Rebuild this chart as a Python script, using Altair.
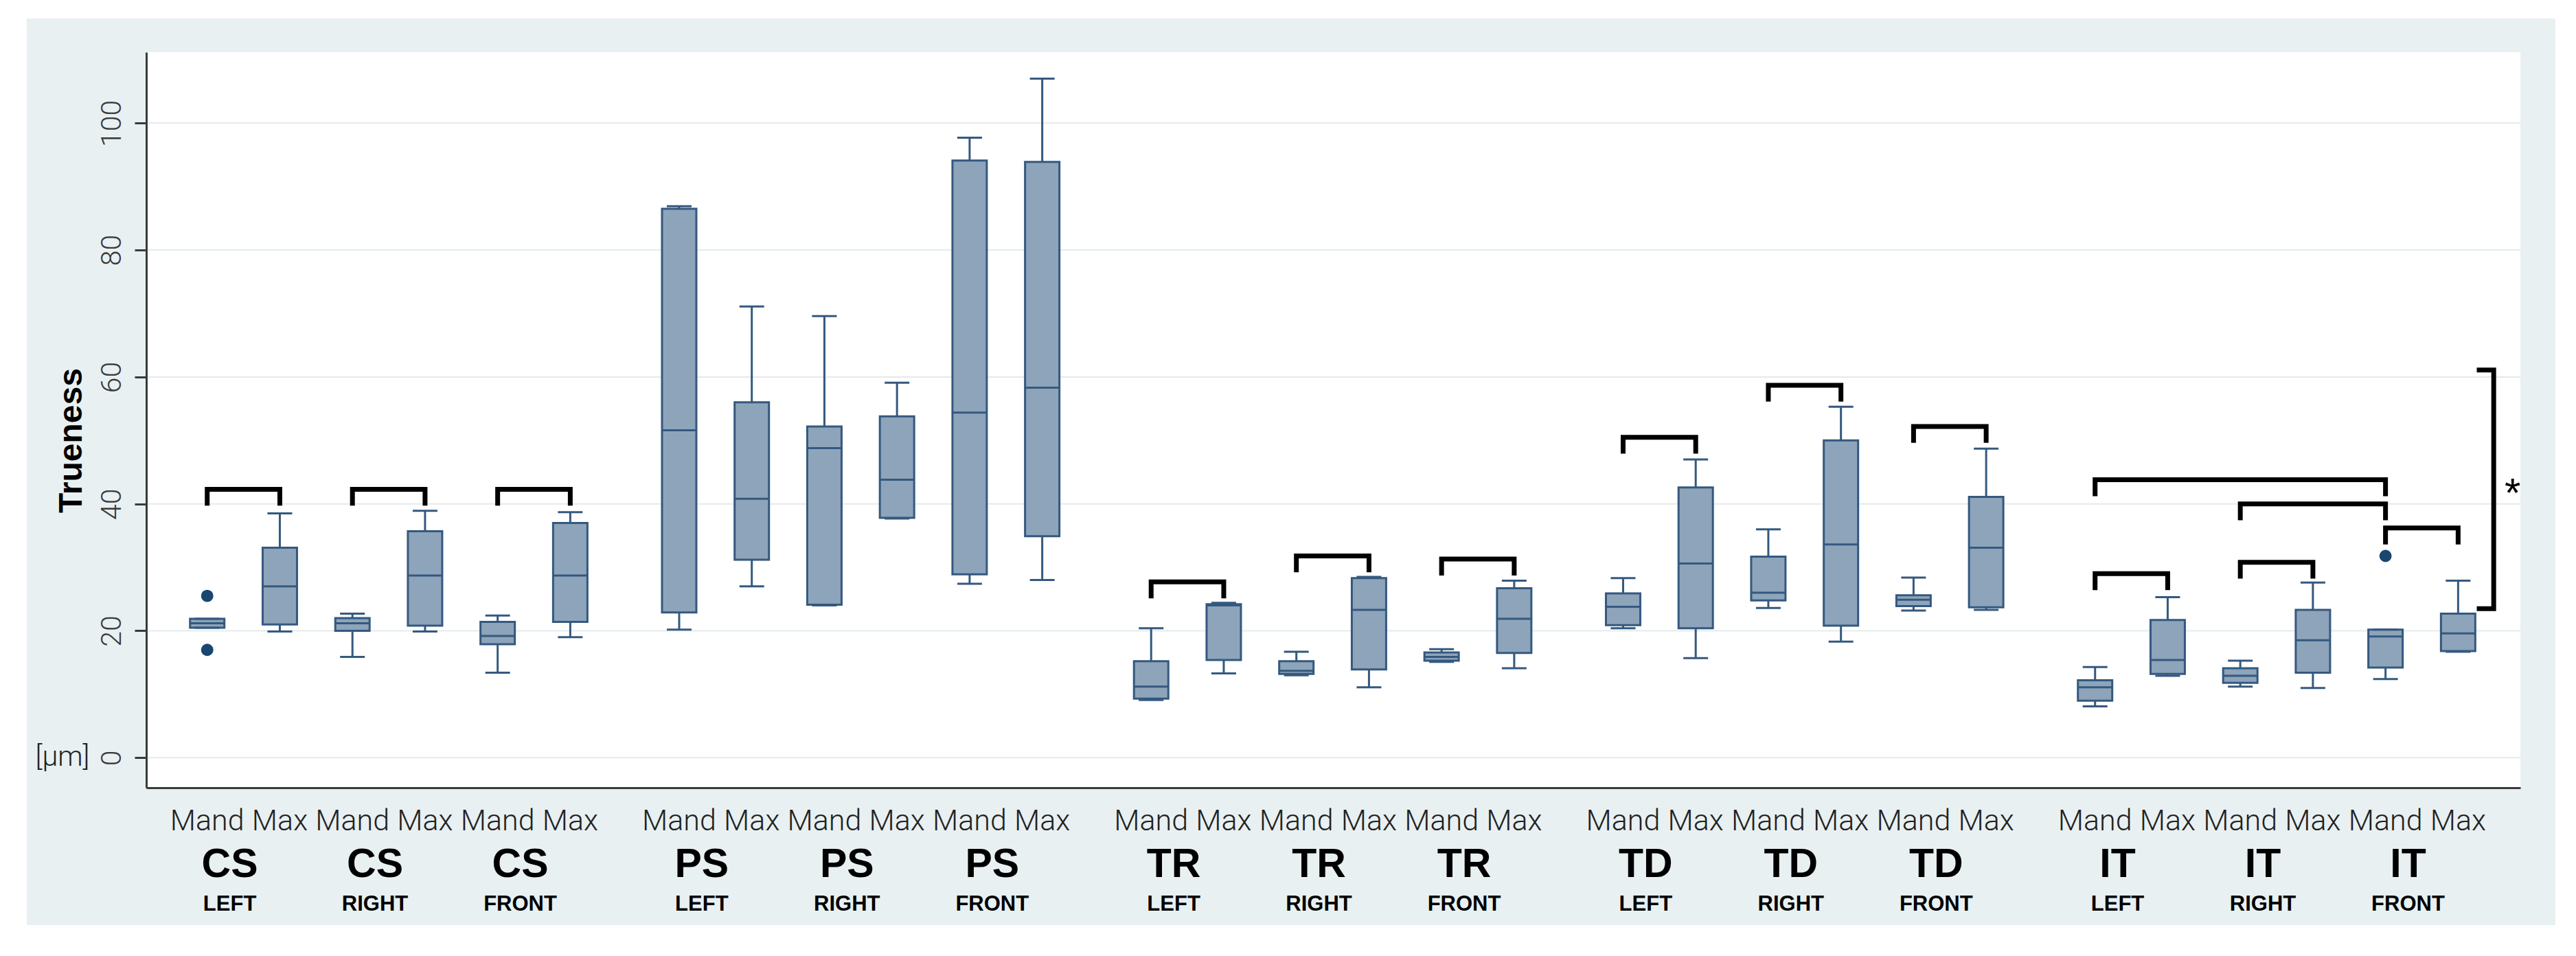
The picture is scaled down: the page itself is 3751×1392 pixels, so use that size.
import altair as alt
import pandas as pd

# ---------------- data ----------------
sites = ["CS", "PS", "TR", "TD", "IT"]
sides = ["LEFT", "RIGHT", "FRONT"]
jaws = ["Mand", "Max"]

# one value per box, ordered site -> side -> jaw (Mand, Max)
lower = [20.5, 19.9, 15.9, 19.9, 13.4, 19.0,
         20.2, 27.0, 24.0, 37.7, 27.4, 28.0,
         9.1, 13.3, 13.0, 11.1, 15.1, 14.1,
         20.4, 15.7, 23.6, 18.3, 23.2, 23.3,
         8.1, 12.9, 11.2, 11.0, 12.4, 16.7]
q1 = [20.5, 21.0, 20.0, 20.8, 17.9, 21.4,
      22.9, 31.2, 24.1, 37.8, 28.9, 34.9,
      9.3, 15.4, 13.2, 13.9, 15.3, 16.5,
      20.9, 20.4, 24.8, 20.8, 23.9, 23.7,
      9.0, 13.2, 11.8, 13.4, 14.2, 16.8]
median = [21.2, 27.0, 21.2, 28.7, 19.2, 28.7,
          51.6, 40.8, 48.8, 43.8, 54.4, 58.3,
          11.2, 24.0, 13.7, 23.3, 15.9, 21.9,
          23.8, 30.6, 26.0, 33.6, 24.9, 33.1,
          11.1, 15.4, 12.9, 18.5, 19.1, 19.6]
q3 = [21.9, 33.1, 22.0, 35.7, 21.4, 37.0,
      86.5, 56.0, 52.2, 53.8, 94.1, 93.9,
      15.2, 24.2, 15.2, 28.3, 16.6, 26.7,
      25.9, 42.6, 31.7, 50.0, 25.6, 41.1,
      12.2, 21.7, 14.1, 23.3, 20.2, 22.7]
upper = [21.9, 38.5, 22.7, 38.9, 22.4, 38.7,
         86.9, 71.1, 69.6, 59.1, 97.7, 107.0,
         20.4, 24.4, 16.7, 28.5, 17.1, 27.9,
         28.3, 47.0, 36.0, 55.3, 28.4, 48.7,
         14.3, 25.3, 15.3, 27.6, 20.2, 27.9]

outlier_box = [0, 0, 28]
outlier_value = [25.5, 17.0, 31.8]

# comparison brackets: from box, to box, level
bracket_from = [0, 2, 4, 12, 14, 16, 18, 20, 22, 24, 26, 28, 26, 24]
bracket_to = [1, 3, 5, 13, 15, 17, 19, 21, 23, 25, 27, 29, 28, 28]
bracket_level = [42.3, 42.3, 42.3, 27.7, 31.8, 31.3, 50.5, 58.7, 52.2,
                 29.0, 30.8, 36.2, 40.0, 43.8]

sig_top = [61.1]
sig_bottom = [23.5]
sig_star_value = [43.3]
sig_label = ["*"]

y_ticks = [0, 20, 40, 60, 80, 100]
y_unit = ["[µm]"]
y_title = "Trueness"

# ---------------- layout / style ----------------
W, H = 3457, 1071
FILL = "#8EA4BA"
STROKE = "#34597F"
NAVY = "#1A476F"
BG = "#E8F0F2"
FONT = "Liberation Sans"
THIN = "Roboto"
DROP = 2.2


def pos(b):
    return (b // 6) * 6.5 + (b % 6)


n = len(lower)
boxes = pd.DataFrame({
    "x": [pos(b) for b in range(n)],
    "jaw": [jaws[b % 2] for b in range(n)],
    "lower": lower, "q1": q1, "median": median, "q3": q3, "upper": upper,
})
outliers = pd.DataFrame({"x": [pos(b) for b in outlier_box], "v": outlier_value})

groups = []
for s, site in enumerate(sites):
    for d, side in enumerate(sides):
        b = s * 6 + d * 2
        groups.append({"x": (pos(b) + pos(b + 1)) / 2, "site": site, "side": side})
groups = pd.DataFrame(groups)

rows = []
for k, (a, b, lv) in enumerate(zip(bracket_from, bracket_to, bracket_level)):
    pts = [(pos(a), lv - DROP), (pos(a), lv), (pos(b), lv), (pos(b), lv - DROP)]
    for o, (xx, yy) in enumerate(pts):
        rows.append({"id": k, "o": o, "x": xx, "v": yy})
last = pos(n - 1)
for k, (t, bt) in enumerate(zip(sig_top, sig_bottom)):
    pts = [(last + 0.29, t), (last + 0.49, t), (last + 0.49, bt), (last + 0.29, bt)]
    for o, (xx, yy) in enumerate(pts):
        rows.append({"id": 100 + k, "o": o, "x": xx, "v": yy})
brackets = pd.DataFrame(rows)
star = pd.DataFrame({"x": [last + 0.75], "v": sig_star_value, "t": sig_label})
grid = pd.DataFrame({"v": y_ticks})
unit = pd.DataFrame({"v": [0], "t": y_unit})

xscale = alt.Scale(domain=[-0.792, 31.81], nice=False, zero=False)
yscale = alt.Scale(domain=[-4.73, 111.18], nice=False, zero=False)
xaxis = alt.Axis(labels=False, ticks=False, grid=False, title=None,
                 domainColor="#3a3a3a", domainWidth=3, zindex=1)
yaxis = alt.Axis(values=y_ticks, grid=False, labelAngle=270, labelAlign="center",
                 labelBaseline="alphabetic", labelPadding=21, labelFontSize=41,
                 labelFont=THIN, labelFontWeight=300, labelColor="#3a3a3a",
                 tickSize=17, tickWidth=3,
                 tickColor="#3a3a3a", domainColor="#3a3a3a", domainWidth=3,
                 title=y_title, titleFont=FONT, titleFontSize=48, titleFontWeight="bold",
                 titleColor="black", titleAngle=270, titleAlign="center",
                 titleBaseline="alphabetic", titleX=-95, titleY=565, zindex=1,
                 labelFlush=False, labelOverlap=False)


def X(f="x"):
    return alt.X(f + ":Q", scale=xscale, axis=xaxis)


def Y(f):
    return alt.Y(f + ":Q", scale=yscale, axis=yaxis)


one = alt.Data(values=[{"a": 1}])

gray = alt.Chart(one).mark_rect(color=BG).encode(
    x=alt.value(-174), x2=alt.value(3508), y=alt.value(-49), y2=alt.value(1271))
white = alt.Chart(one).mark_rect(color="white").encode(
    x=alt.value(0), x2=alt.value(W), y=alt.value(0), y2=alt.value(H))

gridl = alt.Chart(grid).mark_rule(color="#E2EBEE", strokeWidth=2).encode(y=Y("v"))

brk = alt.Chart(brackets).mark_line(color="black", strokeWidth=7, strokeCap="square",
                                    strokeJoin="miter").encode(
    x=X(), y=Y("v"), detail="id:N", order="o:Q")

whisk = alt.Chart(boxes).mark_rule(color=STROKE, strokeWidth=3).encode(
    x=X(), y=Y("lower"), y2="upper:Q")
box = alt.Chart(boxes).mark_bar(orient="vertical", size=50, fill=FILL, stroke=STROKE,
                                strokeWidth=3).encode(x=X(), y=Y("q1"), y2="q3:Q")
med = alt.Chart(boxes).mark_tick(orient="horizontal", size=50, thickness=3,
                                 color=STROKE, opacity=1).encode(x=X(), y=Y("median"))
capl = alt.Chart(boxes).mark_tick(orient="horizontal", size=36, thickness=3,
                                  color=STROKE, opacity=1).encode(x=X(), y=Y("lower"))
capu = alt.Chart(boxes).mark_tick(orient="horizontal", size=36, thickness=3,
                                  color=STROKE, opacity=1).encode(x=X(), y=Y("upper"))
outl = alt.Chart(outliers).mark_point(shape="circle", filled=True, size=320,
                                      color=NAVY, opacity=1).encode(x=X(), y=Y("v"))

jaw_txt = alt.Chart(boxes).mark_text(font=THIN, fontWeight=300, fontSize=43,
                                     color="#222222",
                                     baseline="alphabetic", align="center").encode(
    x=X(), y=alt.value(1133), text="jaw:N")
site_txt = alt.Chart(groups).mark_text(font=FONT, fontSize=59, fontWeight="bold",
                                       color="black", baseline="alphabetic",
                                       align="center", dx=-20).encode(
    x=X(), y=alt.value(1201), text="site:N")
side_txt = alt.Chart(groups).mark_text(font=FONT, fontSize=31, fontWeight="bold",
                                       color="black", baseline="alphabetic",
                                       align="center", dx=-20).encode(
    x=X(), y=alt.value(1250), text="side:N")
star_txt = alt.Chart(star).mark_text(font=FONT, fontSize=60, color="black",
                                     baseline="alphabetic", align="center", dy=35).encode(
    x=X(), y=Y("v"), text="t:N")
unit_txt = alt.Chart(unit).mark_text(font=THIN, fontWeight=300, fontSize=41,
                                     color="#222222",
                                     baseline="middle", align="center").encode(
    x=alt.value(-122), y=Y("v"), text="t:N")

chart = alt.layer(
    gray, white, gridl, brk, whisk, box, med, capl, capu, outl,
    jaw_txt, site_txt, side_txt, star_txt, unit_txt,
).properties(
    width=W, height=H,
    autosize=alt.AutoSizeParams(type="none"),
    padding={"left": 205, "top": 68, "right": 73, "bottom": 237},
).configure_view(stroke=None).configure(background="white")

chart.save("out.html", embed_options={"renderer": "svg", "actions": False})
